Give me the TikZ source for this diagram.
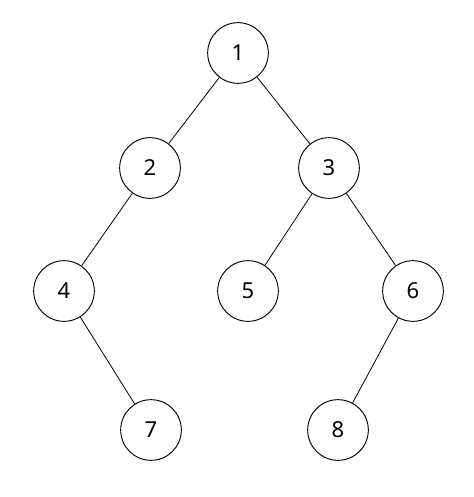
\documentclass[tikz,border=0pt]{standalone}
\usepackage{fontspec}
\setmainfont{Noto Sans}
\usepackage{tikz}
\usetikzlibrary{positioning}
\tikzset{
  treenode/.style={draw=black,circle,minimum size=45.5pt,inner sep=0pt,
    line width=0.7pt,font=\fontsize{16.5}{19}\selectfont},
  treeedge/.style={draw=black,line width=0.6pt}
}
\begin{document}
\begin{tikzpicture}[x=0.75pt,y=-0.75pt]
  \useasboundingbox (0,0) rectangle (474,497);
  \node[treenode] (n1) at (238,53) {1};
  \node[treenode] (n2) at (150,168) {2};
  \node[treenode] (n3) at (329,168) {3};
  \node[treenode] (n4) at (64,291) {4};
  \node[treenode] (n5) at (248,291) {5};
  \node[treenode] (n6) at (413,291) {6};
  \node[treenode] (n7) at (151,430) {7};
  \node[treenode] (n8) at (338,430) {8};
  \draw[treeedge] (n1) -- (n2);
  \draw[treeedge] (n1) -- (n3);
  \draw[treeedge] (n2) -- (n4);
  \draw[treeedge] (n3) -- (n5);
  \draw[treeedge] (n3) -- (n6);
  \draw[treeedge] (n4) -- (n7);
  \draw[treeedge] (n6) -- (n8);
\end{tikzpicture}
\end{document}
